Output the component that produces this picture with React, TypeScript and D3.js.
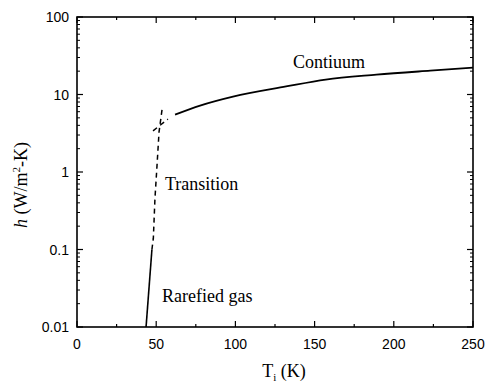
import * as d3 from "d3";

const rarefiedT = [43.6, 47.3];
const rarefiedH = [0.01, 0.1];

const transitionT = [47.3, 48.2, 49.2, 50.5, 51.8, 53.7];
const transitionH = [0.1, 0.14, 0.45, 1.2, 3.3, 6.4];

const bridgeT = [48.0, 57.4];
const bridgeH = [3.4, 4.8];

const continuumT = [61.9, 77.7, 98.5, 132, 157, 189, 223, 250];
const continuumH = [5.5, 7.2, 9.4, 12.7, 15.6, 18, 20.3, 22.2];

const xTicks = [0, 50, 100, 150, 200, 250];
const xMinor = [25, 75, 125, 175, 225];
const yTicks = [0.01, 0.1, 1, 10, 100];
const yTickLabels = ["0.01", "0.1", "1", "10", "100"];

const W = 486;
const H = 385;
const left = 77;
const right = 473;
const top = 17;
const bottom = 327;

const serif = "'Liberation Serif', 'DejaVu Serif', serif";
const sans = "'Liberation Sans', Arial, sans-serif";

export default function App() {
  const x = d3.scaleLinear().domain([0, 250]).range([left, right]);
  const y = d3.scaleLog().domain([0.01, 100]).range([bottom, top]);

  const line = d3
    .line<[number, number]>()
    .x((d) => x(d[0]))
    .y((d) => y(d[1]))
    .curve(d3.curveMonotoneX);

  const zip = (a: number[], b: number[]) => a.map((v, i) => [v, b[i]] as [number, number]);
  const straight = d3
    .line<[number, number]>()
    .x((d) => x(d[0]))
    .y((d) => y(d[1]));

  // minor log ticks for every decade
  const yMinor: number[] = [];
  for (let dec = 0; dec < yTicks.length - 1; dec++) {
    for (let k = 2; k <= 9; k++) yMinor.push(yTicks[dec] * k);
  }

  return (
    <svg width={W} height={H} style={{ position: "absolute", left: 0, top: 0, background: "#fff" }}>
      <rect x={0} y={0} width={W} height={H} fill="#fff" />
      <g stroke="#000" fill="none">
        <rect x={left} y={top} width={right - left} height={bottom - top} strokeWidth={1.6} />
        {xTicks.map((t) => (
          <g key={"xt" + t}>
            <line x1={x(t)} x2={x(t)} y1={bottom} y2={bottom - 6} strokeWidth={1.2} />
            <line x1={x(t)} x2={x(t)} y1={top} y2={top + 6} strokeWidth={1.2} />
          </g>
        ))}
        {xMinor.map((t) => (
          <g key={"xm" + t}>
            <line x1={x(t)} x2={x(t)} y1={bottom} y2={bottom - 3} strokeWidth={1.2} />
            <line x1={x(t)} x2={x(t)} y1={top} y2={top + 3} strokeWidth={1.2} />
          </g>
        ))}
        {yTicks.map((t) => (
          <g key={"yt" + t}>
            <line x1={left} x2={left + 6} y1={y(t)} y2={y(t)} strokeWidth={1.2} />
            <line x1={right} x2={right - 6} y1={y(t)} y2={y(t)} strokeWidth={1.2} />
          </g>
        ))}
        {yMinor.map((t) => (
          <g key={"ym" + t}>
            <line x1={left} x2={left + 3} y1={y(t)} y2={y(t)} strokeWidth={1} />
            <line x1={right} x2={right - 3} y1={y(t)} y2={y(t)} strokeWidth={1} />
          </g>
        ))}

        <path d={straight(zip(rarefiedT, rarefiedH)) ?? ""} strokeWidth={1.6} />
        <path d={straight(zip(transitionT, transitionH)) ?? ""} strokeWidth={1.5} strokeDasharray="5,4" />
        <path d={straight(zip(bridgeT, bridgeH)) ?? ""} strokeWidth={1.5} strokeDasharray="5,4" />
        <path d={line(zip(continuumT, continuumH)) ?? ""} strokeWidth={1.8} />
      </g>

      <g fontFamily={sans} fontSize={14} fill="#000">
        {xTicks.map((t) => (
          <text key={"xl" + t} x={x(t)} y={bottom + 22} textAnchor="middle">
            {t}
          </text>
        ))}
        {yTicks.map((t, i) => (
          <text key={"yl" + t} x={left - 8} y={y(t) + 5} textAnchor="end">
            {yTickLabels[i]}
          </text>
        ))}
      </g>

      <g fontFamily={serif} fontSize={18} fill="#000">
        <text x={293} y={68}>Contiuum</text>
        <text x={165} y={190}>Transition</text>
        <text x={162} y={302}>Rarefied gas</text>
        <text x={284} y={377} textAnchor="middle">
          T<tspan fontSize={11} dy={4}>i</tspan>
          <tspan dy={-4}> (K)</tspan>
        </text>
        <text transform="translate(27,185) rotate(-90)" textAnchor="middle">
          <tspan fontStyle="italic">h</tspan> (W/m<tspan fontSize={11} dy={-7}>2</tspan>
          <tspan dy={7}>-K)</tspan>
        </text>
      </g>
    </svg>
  );
}
